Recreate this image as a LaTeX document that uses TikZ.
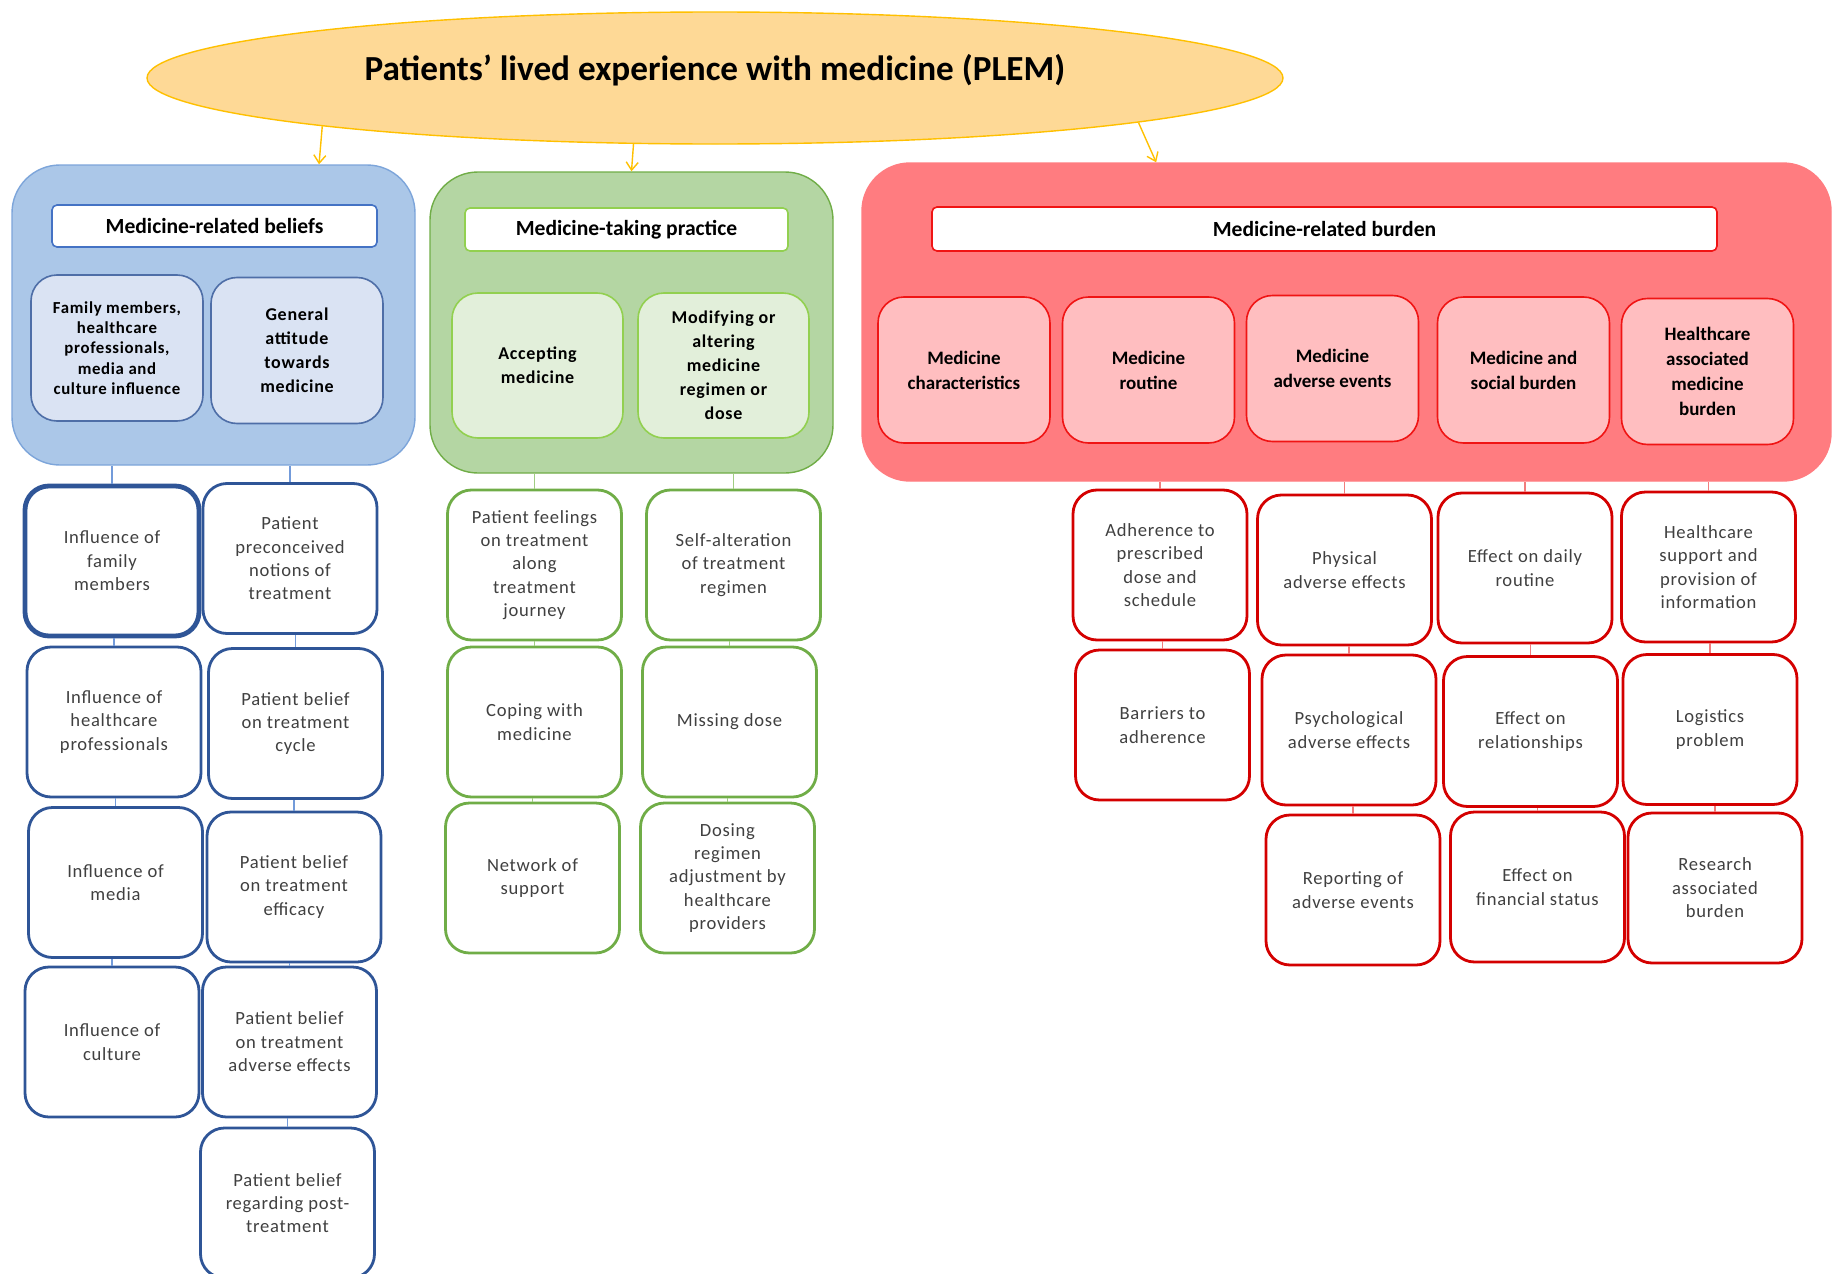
\documentclass[tikz,border=0pt]{standalone}
\usepackage{fontspec}
\setmainfont{Carlito}
\newfontfamily\spacedfont[LetterSpace=4]{Carlito}
\usepackage{tikz}
\usetikzlibrary{shapes.geometric,arrows.meta}
\definecolor{plemfill}{RGB}{254,217,150}
\definecolor{plemline}{RGB}{255,192,0}
\definecolor{beliefblue}{RGB}{171,199,232}
\definecolor{beliefline}{RGB}{125,165,218}
\definecolor{beliefsub}{RGB}{218,227,243}
\definecolor{beliefhead}{RGB}{68,114,196}
\definecolor{beliefdark}{RGB}{47,85,151}
\definecolor{beliefwire}{RGB}{115,155,218}
\definecolor{practicegreen}{RGB}{180,214,163}
\definecolor{practiceline}{RGB}{112,173,71}
\definecolor{practicesub}{RGB}{226,239,218}
\definecolor{practicelight}{RGB}{146,208,80}
\definecolor{practicewire}{RGB}{160,205,130}
\definecolor{burdenred}{RGB}{255,124,128}
\definecolor{burdensub}{RGB}{255,190,192}
\definecolor{burdenline}{RGB}{240,20,20}
\definecolor{burdendark}{RGB}{212,0,0}
\definecolor{burdenwire}{RGB}{242,125,125}
\definecolor{textgrey}{RGB}{64,64,64}

\begin{document}
\begin{tikzpicture}[x=0.5pt, y=-0.5pt,
    theme/.style={ellipse, draw=plemline, fill=plemfill, line width=0.7pt, minimum width=568pt, minimum height=66pt, text height=10pt, text depth=8pt, font=\bfseries\fontsize{17.6}{20}\selectfont},
    groupbox/.style={rectangle, rounded corners=24pt, line width=0.7pt},
    headbox/.style={rectangle, draw, fill=white, rounded corners=2.5pt, line width=0.8pt, font=\bfseries\fontsize{10.8}{13}\selectfont},
    subbox/.style={rectangle, draw, rounded corners=13pt, line width=0.8pt, minimum width=86pt, minimum height=73pt, align=center, font=\spacedfont\bfseries\fontsize{9}{12}\selectfont},
    leafbox/.style={rectangle, draw, fill=white, rounded corners=12pt, line width=1.4pt, minimum width=87pt, minimum height=75pt, align=center, text=textgrey, font=\spacedfont\fontsize{9.3}{11.7}\selectfont},
    wire/.style={line width=0.8pt},
    pointer/.style={draw=plemline, line width=0.7pt, -{Straight Barb[length=4pt, width=6pt]}}
]
    \useasboundingbox (0,0) rectangle (1838,1274);

    % Main theme
    \node[theme] (plem) at (715,78) {Patients’ lived experience with medicine (PLEM)};

    % Medicine-related beliefs
    \node[groupbox, draw=beliefline, fill=beliefblue, minimum width=201.5pt, minimum height=150pt] (beliefsbox) at (213.5,315) {};
    \node[headbox, draw=beliefhead, minimum width=162.5pt, minimum height=21pt] (beliefs) at (214.5,226) {Medicine-related beliefs};
    \begin{scope}[every node/.style={subbox, draw=beliefdark!85, fill=beliefsub}]
        \node[font=\spacedfont\bfseries\fontsize{8.4}{10.1}\selectfont] (bsub1) at (117,348) {Family members,\\healthcare\\professionals,\\media and\\culture influence};
        \node (bsub2) at (297,350.5) {General\\attitude\\towards\\medicine};
    \end{scope}

    % Medicine-taking practice
    \node[groupbox, draw=practiceline, fill=practicegreen, minimum width=201.5pt, minimum height=150.5pt] (practicebox) at (631.5,322.5) {};
    \node[headbox, draw=practicelight, minimum width=161.5pt, minimum height=21.5pt] (practice) at (626.5,229.5) {Medicine-taking practice};
    \begin{scope}[every node/.style={subbox, draw=practicelight, fill=practicesub, minimum width=85.5pt, minimum height=72.5pt}]
        \node (gsub1) at (537.5,365.5) {Accepting\\medicine};
        \node (gsub2) at (723.5,365.5) {Modifying or\\altering\\medicine\\regimen or\\dose};
    \end{scope}

    % Medicine-related burden
    \node[groupbox, draw=burdenred, fill=burdenred, minimum width=484.5pt, minimum height=159pt] (burdenbox) at (1346.5,322) {};
    \node[headbox, draw=burdenline, minimum width=392.5pt, minimum height=22pt] (burden) at (1324.5,229) {Medicine-related burden};
    \begin{scope}[every node/.style={subbox, draw=burdenline, fill=burdensub, font=\bfseries\fontsize{9.5}{12.5}\selectfont}]
        \node (rsub1) at (964,370) {Medicine\\characteristics};
        \node (rsub2) at (1148.5,370) {Medicine\\routine};
        \node (rsub3) at (1332.5,368.5) {Medicine\\adverse events};
        \node (rsub4) at (1523.5,370) {Medicine and\\social burden};
        \node (rsub5) at (1707.5,371.5) {Healthcare\\associated\\medicine\\burden};
    \end{scope}

    % Arrows from the main theme
    \draw[pointer] (plem.187) -- (beliefsbox.55);
    \draw[pointer] (plem.219) -- (practicebox.north);
    \draw[pointer] (plem.354) -- (burdenbox.140);

    % Beliefs sub-themes
    \begin{scope}[every node/.style={leafbox, draw=beliefdark}]
        \node[line width=2.4pt] (b1) at (112,561) {Influence of\\family\\members};
        \node (b2) at (114,722) {Influence of\\healthcare\\professionals};
        \node (b3) at (115.5,882.5) {Influence of\\media};
        \node (b4) at (112,1042) {Influence of\\culture};
        \node (b5) at (290,558.5) {Patient\\preconceived\\notions of\\treatment};
        \node (b6) at (295.5,723.5) {Patient belief\\on treatment\\cycle};
        \node (b7) at (294,887) {Patient belief\\on treatment\\efficacy};
        \node (b8) at (289.5,1042) {Patient belief\\on treatment\\adverse effects};
        \node (b9) at (287.5,1203) {Patient belief\\regarding post-\\treatment};
    \end{scope}

    % Practice sub-themes
    \begin{scope}[every node/.style={leafbox, draw=practiceline}]
        \node (g1) at (534.5,565) {Patient feelings\\on treatment\\along\\treatment\\journey};
        \node (g2) at (534.5,722) {Coping with\\medicine};
        \node (g3) at (532.5,878) {Network of\\support};
        \node (g4) at (733.5,565) {Self-alteration\\of treatment\\regimen};
        \node (g5) at (729.5,722) {Missing dose};
        \node (g6) at (727.5,878) {Dosing\\regimen\\adjustment by\\healthcare\\providers};
    \end{scope}

    % Burden sub-themes
    \begin{scope}[every node/.style={leafbox, draw=burdendark}]
        \node (ra1) at (1160,565) {Adherence to\\prescribed\\dose and\\schedule};
        \node (ra2) at (1162.5,725) {Barriers to\\adherence};
        \node (rb1) at (1344.5,570) {Physical\\adverse effects};
        \node (rb2) at (1349,730) {Psychological\\adverse effects};
        \node (rb3) at (1353,890) {Reporting of\\adverse events};
        \node (rc1) at (1525,568) {Effect on daily\\routine};
        \node (rc2) at (1530.5,731.5) {Effect on\\relationships};
        \node (rc3) at (1537.5,887) {Effect on\\financial status};
        \node (rd1) at (1708.5,567) {Healthcare\\support and\\provision of\\information};
        \node (rd2) at (1710,729.5) {Logistics\\problem};
        \node (rd3) at (1715,888) {Research\\associated\\burden};
    \end{scope}

    % Connections
    \foreach \a/\b in {beliefsbox/b1, b1/b2, b2/b3, b3/b4, beliefsbox/b5, b5/b6, b6/b7, b7/b8, b8/b9} {
        \draw[wire, draw=beliefwire] (\b.north) -- (\b.north |- \a.south);
    }
    \foreach \a/\b in {practicebox/g1, g1/g2, g2/g3, practicebox/g4, g4/g5, g5/g6} {
        \draw[wire, draw=practicewire] (\b.north) -- (\b.north |- \a.south);
    }
    \foreach \a/\b in {burdenbox/ra1, ra1/ra2, burdenbox/rb1, rb1/rb2, rb2/rb3, burdenbox/rc1, rc1/rc2, rc2/rc3, burdenbox/rd1, rd1/rd2, rd2/rd3} {
        \draw[wire, draw=burdenwire] (\b.north) -- (\b.north |- \a.south);
    }
\end{tikzpicture}
\end{document}
